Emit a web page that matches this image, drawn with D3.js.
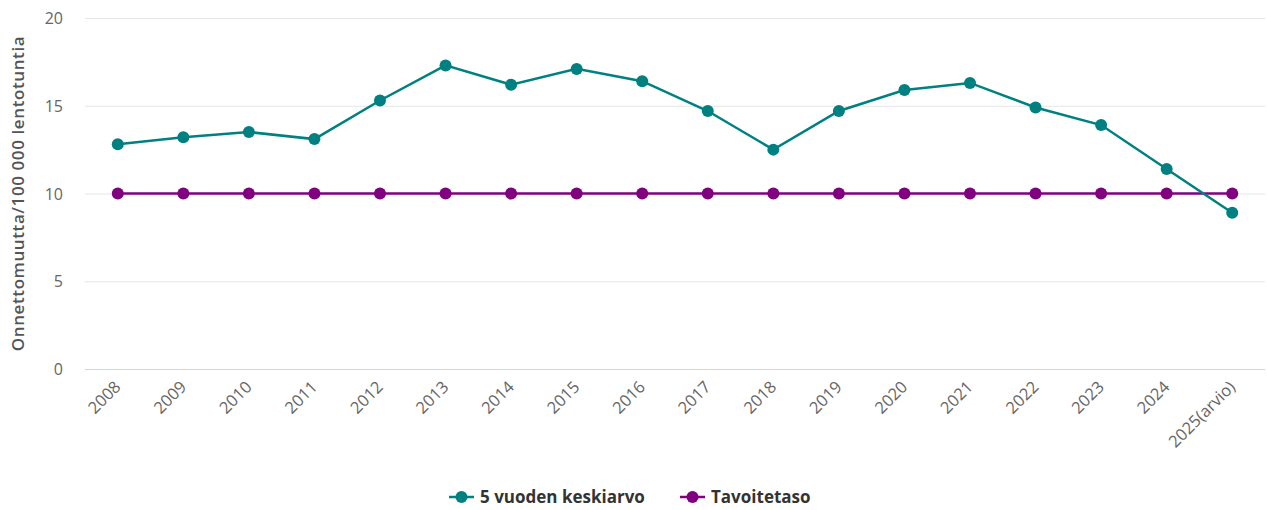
<!DOCTYPE html>
<html>
<head>
<meta charset="utf-8">
<script src="https://cdn.jsdelivr.net/npm/d3@7"></script>
<style>
  body { margin: 0; background: #fff; font-family: "Open Sans", "Noto Sans", sans-serif; }
</style>
</head>
<body>
<div id="chart"></div>
<script>
var years = ["2008","2009","2010","2011","2012","2013","2014","2015","2016","2017",
             "2018","2019","2020","2021","2022","2023","2024","2025(arvio)"];
var keskiarvo = [12.8, 13.2, 13.5, 13.1, 15.3, 17.3, 16.2, 17.1, 16.4, 14.7,
                 12.5, 14.7, 15.9, 16.3, 14.9, 13.9, 11.4, 8.9];
var tavoitetaso = [10, 10, 10, 10, 10, 10, 10, 10, 10, 10, 10, 10, 10, 10, 10, 10, 10, 10];
var yTicks = [0, 5, 10, 15, 20];

var width = 1267, height = 510;
var plotLeft = 85, plotRight = 1265, plotTop = 18, plotBottom = 369;

var series = [
  {name: "5 vuoden keskiarvo", color: "#008080", values: keskiarvo},
  {name: "Tavoitetaso", color: "#800080", values: tavoitetaso}
];

var svg = d3.select('#chart').append('svg')
    .attr('width', width)
    .attr('height', height);

var x = d3.scaleBand().domain(years).range([plotLeft, plotRight]);
var y = d3.scaleLinear().domain([0, 20]).range([plotBottom, plotTop]);

// gridlines
svg.append('g').selectAll('line').data(yTicks.filter(function (d) { return d > 0; }))
  .enter().append('line')
    .attr('x1', plotLeft).attr('x2', plotRight)
    .attr('y1', function (d) { return y(d) + 0.5; })
    .attr('y2', function (d) { return y(d) + 0.5; })
    .attr('stroke', '#e6e6e6');

// bottom axis line
svg.append('line')
    .attr('x1', plotLeft).attr('x2', plotRight)
    .attr('y1', plotBottom + 0.5).attr('y2', plotBottom + 0.5)
    .attr('stroke', '#ccd6eb');

// y labels
svg.append('g').selectAll('text').data(yTicks)
  .enter().append('text')
    .attr('x', 63)
    .attr('y', function (d) { return y(d) + 6; })
    .attr('text-anchor', 'end')
    .attr('fill', '#666')
    .style('font-size', '16px')
    .text(function (d) { return d; });

// y title
svg.append('text')
    .attr('transform', 'translate(24,' + ((plotTop + plotBottom) / 2) + ') rotate(-90)')
    .attr('text-anchor', 'middle')
    .attr('fill', '#555')
    .style('font-size', '17px')
    .style('font-weight', '600')
    .style('letter-spacing', '0.6px')
    .text('Onnettomuutta/100 000 lentotuntia');

// x labels
svg.append('g').selectAll('text').data(years)
  .enter().append('text')
    .attr('transform', function (d) {
      return 'translate(' + (x(d) + x.bandwidth() / 2 + 4) + ',' + (plotBottom + 19) + ') rotate(-45)';
    })
    .attr('text-anchor', 'end')
    .attr('fill', '#666')
    .style('font-size', '16.5px')
    .text(function (d) { return d; });

var line = d3.line()
    .x(function (d, i) { return x(years[i]) + x.bandwidth() / 2; })
    .y(function (d) { return y(d); });

// purple first, teal on top
[series[1], series[0]].forEach(function (s) {
  svg.append('path')
      .datum(s.values)
      .attr('fill', 'none')
      .attr('stroke', s.color)
      .attr('stroke-width', 2.5)
      .attr('d', line);
  svg.append('g').selectAll('circle').data(s.values)
    .enter().append('circle')
      .attr('cx', function (d, i) { return x(years[i]) + x.bandwidth() / 2; })
      .attr('cy', function (d) { return y(d); })
      .attr('r', 6)
      .attr('fill', s.color);
});

// legend
var legend = svg.append('g').attr('transform', 'translate(0,497)');
var lx = [449, 680];
series.forEach(function (s, i) {
  var g = legend.append('g').attr('transform', 'translate(' + lx[i] + ',0)');
  g.append('line').attr('x1', 0).attr('x2', 25).attr('y1', 0).attr('y2', 0)
    .attr('stroke', s.color).attr('stroke-width', 2.5);
  g.append('circle').attr('cx', 12.5).attr('cy', 0).attr('r', 6).attr('fill', s.color);
  g.append('text').attr('x', 31).attr('y', 6)
    .attr('fill', '#333')
    .style('font-size', '17px')
    .style('font-weight', 'bold')
    .text(s.name);
});
</script>
</body>
</html>
